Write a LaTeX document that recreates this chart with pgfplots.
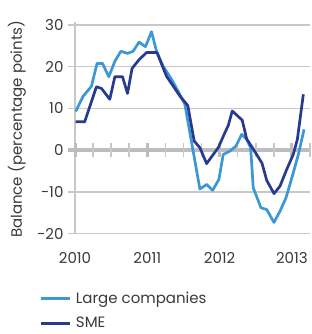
\documentclass[border=0pt]{standalone}
\usepackage{pgfplots}
\pgfplotsset{compat=1.18}
\usepackage{fontspec}
\setmainfont{Poppins}
\definecolor{lightb}{HTML}{3B98D4}
\definecolor{darkb}{HTML}{283A8F}
\definecolor{gridg}{HTML}{C8C8C8}
\definecolor{zerog}{HTML}{BDBDBD}
\definecolor{txt}{HTML}{3A3A3A}
\begin{document}
\begin{tikzpicture}
\useasboundingbox (-68pt,-100.3pt) rectangle (244pt,233.7pt);
\begin{axis}[
  scale only axis,
  width=242pt, height=208.7pt,
  xmin=-0.097, xmax=3.25,
  ymin=-20, ymax=30,
  axis line style={draw=none},
  ytick={-20,-10,0,10,20,30},
  yticklabels={−20,−10,0,10,20,30},
  xtick={0,1,2,3},
  xticklabels={2010,2011,2012,2013},
  major tick length=0pt,
  ymajorgrids,
  major grid style={draw=gridg, line width=1.3pt},
  tick label style={font=\fontsize{15}{18}\selectfont, text=txt},
  xticklabel style={yshift=-15pt},
  yticklabel style={xshift=-1pt},
  ylabel={Balance (percentage points)},
  ylabel style={at={(axis description cs:0,0.5)}, anchor=center, yshift=51pt, font=\fontsize{15}{18}\selectfont, text=txt},
  legend style={at={(axis description cs:0,0)}, anchor=north west, xshift=-29pt, yshift=-56.5pt,
    draw=none, fill=none, inner sep=0pt, row sep=8pt,
    font=\fontsize{15}{18}\selectfont, text=txt, cells={anchor=west},
    nodes={inner xsep=5pt}},
  legend image code/.code={\draw[#1, line width=2.8pt] (0pt,0pt) -- (29pt,0pt);},
  clip=false,
]
\draw[draw=gridg, line width=1.3pt] (axis cs:0,-20) -- (axis cs:0,30) -- ++(0pt,3pt);
\draw[draw=zerog, line width=3.5pt] (axis cs:-0.097,0) -- (axis cs:3.25,0);
\pgfplotsinvokeforeach{0.25,0.5,0.75,1.25,1.5,1.75,2.25,2.5,2.75,3.25}{
  \draw[draw=gridg, line width=1.5pt] ([yshift=-7pt]axis cs:#1,0) -- ([yshift=7pt]axis cs:#1,0);
}
\pgfplotsinvokeforeach{0,1,2,3}{
  \draw[draw=zerog, line width=3pt] ([yshift=-7pt]axis cs:#1,0) -- ([yshift=7pt]axis cs:#1,0);
}
% x = years since January 2010
\addplot[lightb, line width=2.7pt, line join=round] coordinates {
(0.010,9.3) (0.111,12.9) (0.227,15.3) (0.305,20.8) (0.380,20.8)
(0.467,17.6) (0.551,21.3) (0.634,23.7) (0.726,23.2) (0.803,23.7)
(0.886,25.9) (0.975,24.8) (1.058,28.4) (1.132,23.4) (1.219,20.1)
(1.335,17.0) (1.427,14.1) (1.519,11.0) (1.727,-9.3) (1.820,-8.2)
(1.903,-9.6) (1.990,-7.0) (2.050,-1.0) (2.143,-0.2) (2.226,1.0)
(2.305,3.8) (2.374,2.6) (2.429,0.6) (2.465,-9.0) (2.572,-13.8)
(2.651,-14.2) (2.752,-17.3) (2.835,-14.6) (2.918,-11.4) (3.019,-5.4)
(3.089,-1.0) (3.168,5.0)
};
\addlegendentry{Large companies}
\addplot[darkb, line width=2.7pt, line join=round] coordinates {
(0.010,6.8) (0.134,6.8) (0.296,15.2) (0.366,14.8) (0.481,12.2)
(0.551,17.6) (0.657,17.6) (0.726,13.6) (0.789,19.6) (0.886,21.7)
(0.989,23.4) (1.136,23.4) (1.201,20.5) (1.266,17.7) (1.357,15.4)
(1.450,13.0) (1.560,10.7) (1.648,2.2) (1.727,0.6) (1.820,-3.2)
(1.981,0.6) (2.073,4.2) (2.119,5.9) (2.175,9.4) (2.313,7.2)
(2.374,2.7) (2.468,0.2) (2.586,-3.1) (2.651,-7.2) (2.752,-10.4)
(2.835,-8.6) (2.928,-4.6) (3.019,-1.0) (3.075,2.6) (3.158,13.4)
};
\addlegendentry{SME}
\end{axis}
\end{tikzpicture}
\end{document}
